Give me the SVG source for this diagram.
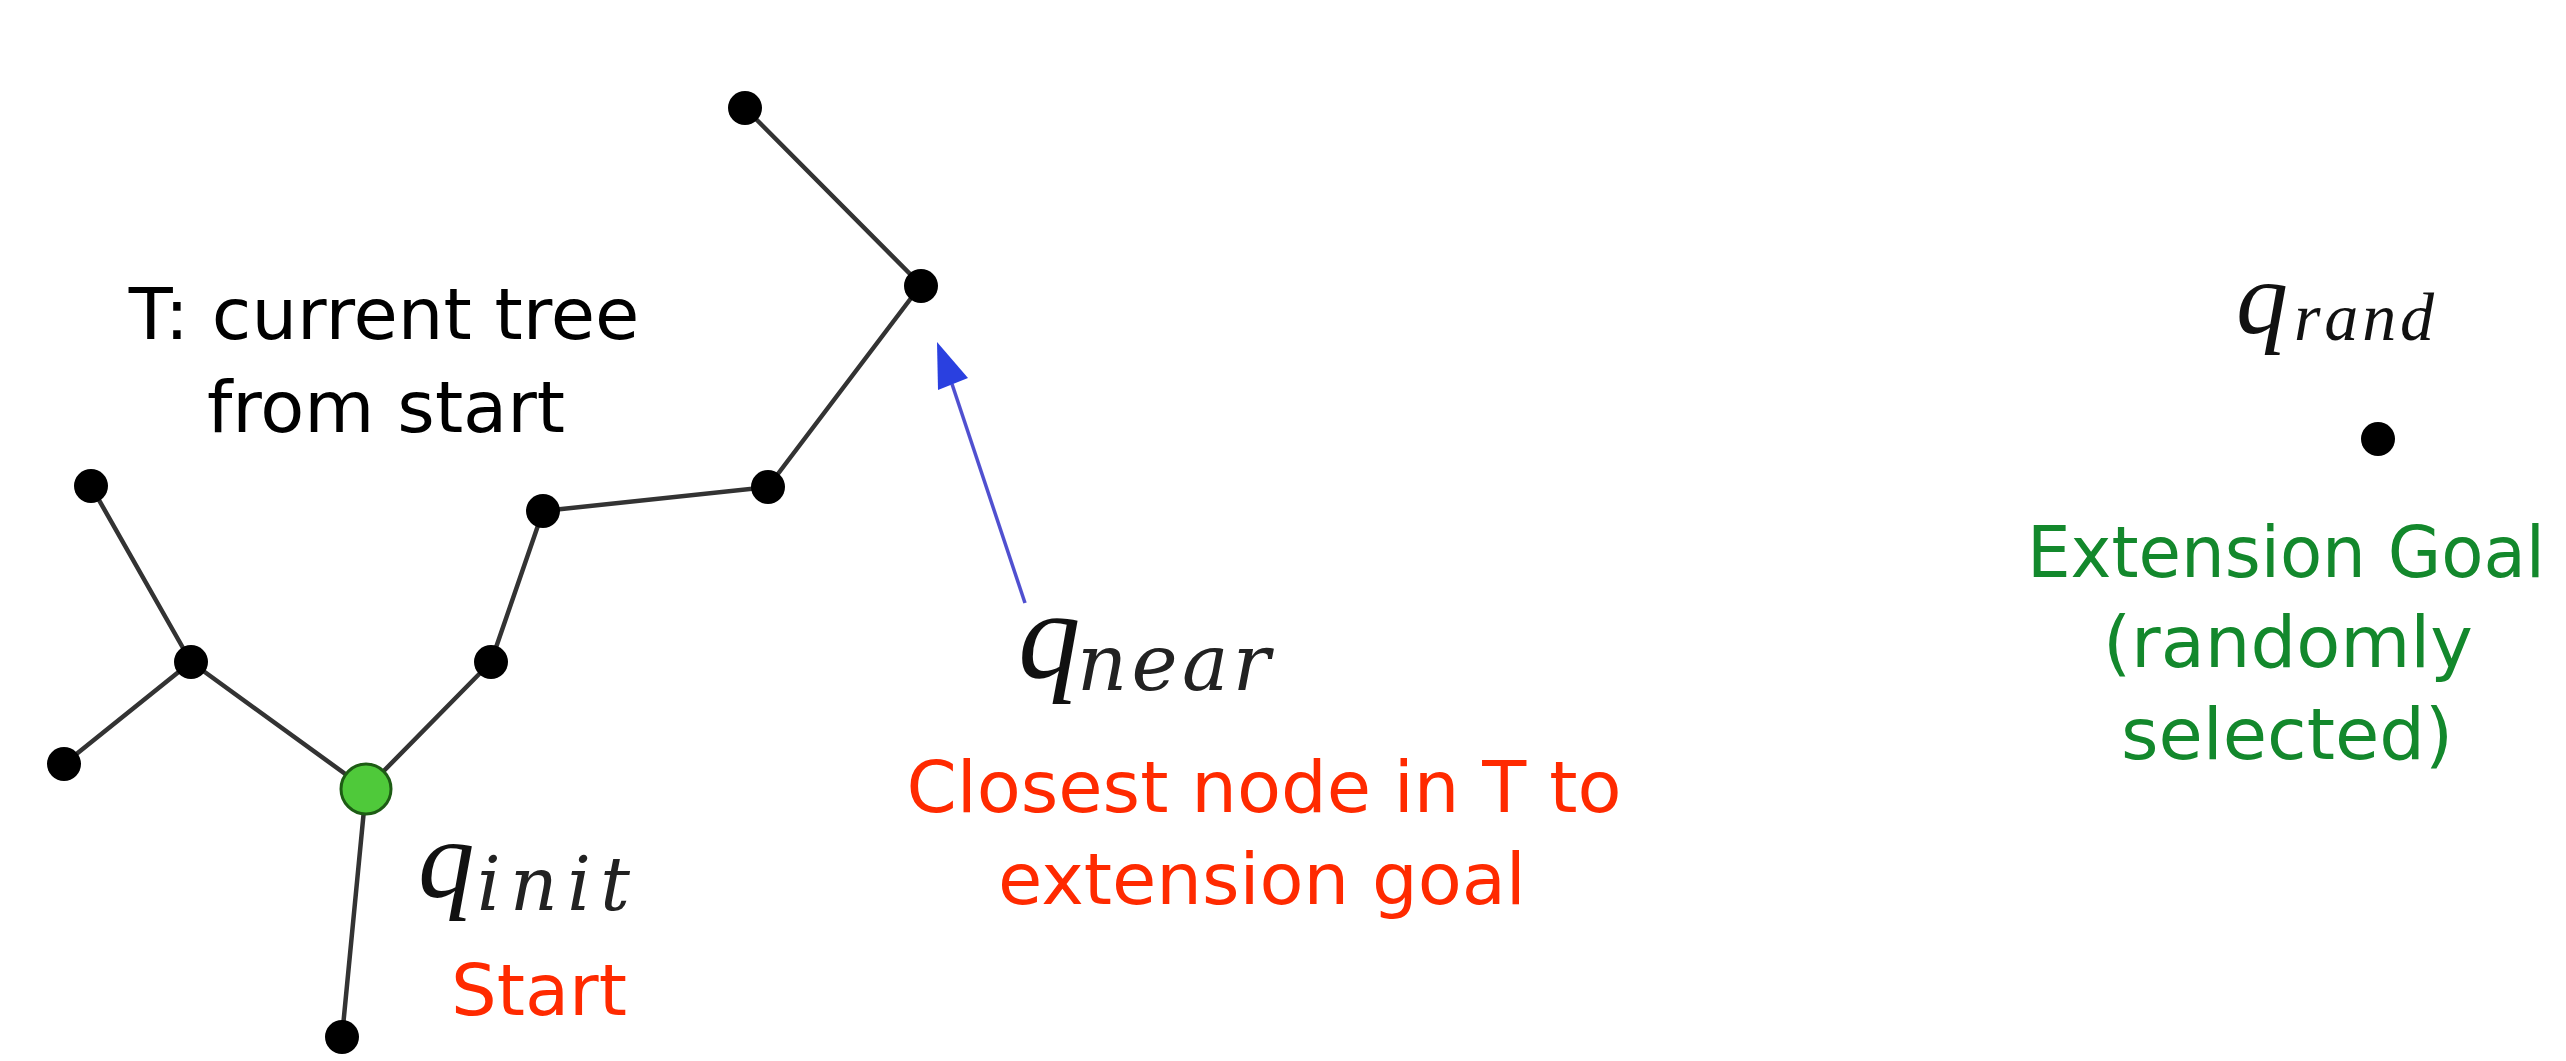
<svg xmlns="http://www.w3.org/2000/svg" width="2566" height="1061" viewBox="0 0 2566 1061">
<defs>
<style>
.edge{stroke:#333;stroke-width:4.5;fill:none;stroke-linecap:round}
.node{fill:#000}
.lbl{font-family:"DejaVu Sans","Liberation Sans",sans-serif;font-size:72px;text-anchor:middle}
.math{font-family:"Liberation Serif","Times New Roman",serif;font-style:italic;fill:#111}
.sub{font-family:"DejaVu Serif","Liberation Serif",serif;font-style:italic;fill:#222}
.red{fill:#ff2a00}
.green{fill:#13882c}
.black{fill:#000}
</style>
</defs>
<rect width="2566" height="1061" fill="#fff"/>
<g id="connectors">
<line class="edge" x1="745" y1="108" x2="921" y2="285"/>
<line class="edge" x1="921" y1="285" x2="768" y2="487"/>
<line class="edge" x1="768" y1="487" x2="543" y2="511"/>
<line class="edge" x1="543" y1="511" x2="491" y2="662"/>
<line class="edge" x1="491" y1="662" x2="366" y2="789"/>
<line class="edge" x1="191" y1="662" x2="366" y2="789"/>
<line class="edge" x1="91" y1="486" x2="191" y2="662"/>
<line class="edge" x1="64" y1="764" x2="191" y2="662"/>
<line class="edge" x1="366" y1="789" x2="342" y2="1037"/>
<line x1="1025" y1="603" x2="952" y2="384" stroke="#5050d0" stroke-width="3.5"/>
<polygon points="937,342 938,390 968,378" fill="#2a40e0"/>
</g>
<g id="n_top"><circle class="node" cx="745" cy="108" r="17"/></g>
<g id="n_near"><circle class="node" cx="921" cy="286" r="17"/></g>
<g id="n_a"><circle class="node" cx="768" cy="487" r="17"/></g>
<g id="n_b"><circle class="node" cx="543" cy="511" r="17"/></g>
<g id="n_c"><circle class="node" cx="491" cy="662" r="17"/></g>
<g id="n_d"><circle class="node" cx="191" cy="662" r="17"/></g>
<g id="n_e"><circle class="node" cx="91" cy="486" r="17"/></g>
<g id="n_f"><circle class="node" cx="64" cy="764" r="17"/></g>
<g id="n_bottom"><circle class="node" cx="342" cy="1037" r="17"/></g>
<g id="n_start"><circle cx="366" cy="789" r="25" fill="#4fc93a" stroke="#1d5c14" stroke-width="3"/></g>
<g id="n_rand"><circle class="node" cx="2378" cy="439" r="17"/></g>
<g id="labels">
<text class="lbl black" x="384" y="339">T: current tree</text>
<text class="lbl black" x="386" y="432">from start</text>
<text class="lbl red" x="539" y="1015">Start</text>
<text class="lbl red" x="1264" y="812">Closest node in T to</text>
<text class="lbl red" x="1262" y="904">extension goal</text>
<text class="lbl green" x="2286" y="577" textLength="518" lengthAdjust="spacingAndGlyphs">Extension Goal</text>
<text class="lbl green" x="2288" y="667">(randomly</text>
<text class="lbl green" x="2287" y="759">selected)</text>
<text class="math" x="418" y="897" font-size="113">q</text>
<text class="sub" x="477" y="910" font-size="74" textLength="153" lengthAdjust="spacing">init</text>
<text class="math" x="1018" y="677" font-size="125">q</text>
<text class="sub" x="1077" y="690" font-size="78" textLength="193" lengthAdjust="spacing">near</text>
<text class="math" x="2236" y="333" font-size="104" fill="#000">q</text>
<text class="math" x="2294" y="340" font-size="68" textLength="140" lengthAdjust="spacing" fill="#000">rand</text>
</g>
</svg>
